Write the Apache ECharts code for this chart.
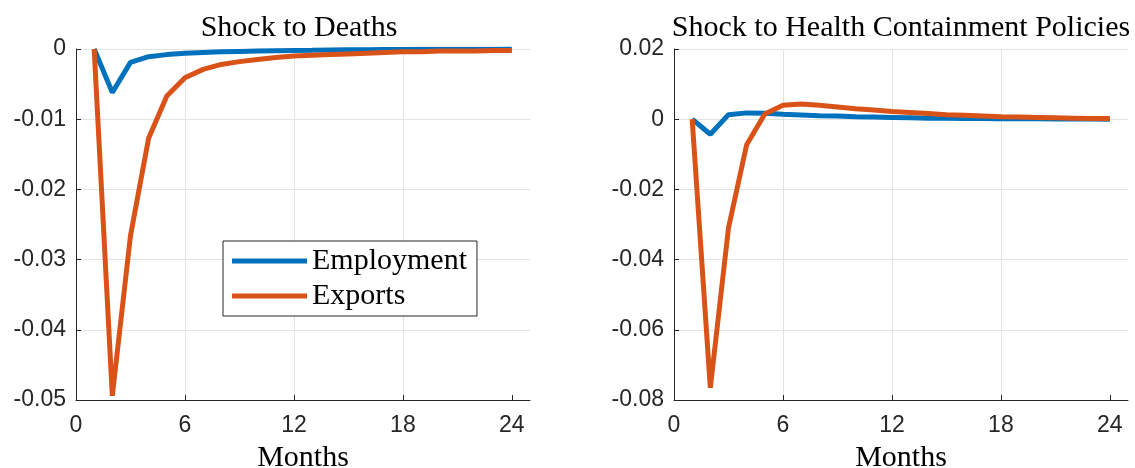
<!DOCTYPE html>
<html>
<head>
<meta charset="utf-8">
<script src="https://cdn.jsdelivr.net/npm/echarts@6/dist/echarts.min.js"></script>
<style>
  html, body { margin: 0; padding: 0; background: #fff; }
  #main { width: 1135px; height: 468px; }
</style>
</head>
<body>
<div id="main"></div>
<script>
// months after the shock
var months = [1, 2, 3, 4, 5, 6, 7, 8, 9, 10, 11, 12, 13, 14, 15, 16, 17, 18, 19, 20, 21, 22, 23, 24];
var xTicks = [0, 6, 12, 18, 24];

// shock to deaths
var deathsEmployment = [0, -0.0062, -0.0019, -0.0011, -0.0008, -0.0006, -0.0005, -0.0004, -0.00035, -0.0003,
  -0.00025, -0.0002, -0.00018, -0.00015, -0.00012, -0.0001, -0.00008, -0.00006, -0.00005, -0.00004,
  -0.00003, -0.00002, -0.00002, -0.00001];
var deathsExports = [0, -0.0494, -0.0266, -0.0127, -0.0067, -0.0041, -0.0029, -0.0022, -0.0018, -0.0015,
  -0.0012, -0.0010, -0.0009, -0.0008, -0.0007, -0.0006, -0.0005, -0.0004, -0.0004, -0.0003,
  -0.0003, -0.0003, -0.0002, -0.0002];

// shock to health containment policies
var policyEmployment = [0, -0.0043, 0.0013, 0.0018, 0.0017, 0.0014, 0.0012, 0.0010, 0.0009, 0.0007,
  0.0006, 0.0005, 0.0004, 0.0003, 0.0003, 0.0002, 0.0002, 0.0001, 0.0001, 0.0001,
  0.00005, 0.00005, 0.00003, 0.00002];
var policyExports = [0, -0.0765, -0.0310, -0.0073, 0.0015, 0.0040, 0.0043, 0.0040, 0.0035, 0.0030,
  0.0026, 0.0022, 0.0019, 0.0016, 0.0013, 0.0011, 0.0009, 0.0007, 0.0006, 0.0005,
  0.0004, 0.0003, 0.0002, 0.0002];

var blue = '#0072BD';
var orange = '#D95319';
var axisColor = '#262626';
var serif = '"Liberation Serif", "DejaVu Serif", serif';
var sans = '"Liberation Sans", Arial, sans-serif';

function pairs(vals) {
  return months.map(function (m, i) { return [m, vals[i]]; });
}

function xAxisCfg(idx) {
  return {
    gridIndex: idx, type: 'value', min: 0, max: 25, interval: 6,
    name: 'Months', nameLocation: 'middle', nameGap: 43,
    nameTextStyle: { fontFamily: serif, fontSize: 30, color: '#000' },
    axisLine: { show: true, onZero: false, lineStyle: { color: axisColor, width: 1 } },
    axisTick: { show: true, inside: true, length: 5, customValues: xTicks, lineStyle: { color: axisColor } },
    axisLabel: { customValues: xTicks, margin: 14, fontFamily: sans, fontSize: 23, color: axisColor },
    splitLine: { show: true, showMinLine: false, showMaxLine: false, lineStyle: { color: '#e3e3e3', width: 1 } }
  };
}

function yAxisCfg(idx, min, max, step) {
  return {
    gridIndex: idx, type: 'value', min: min, max: max, interval: step,
    axisLine: { show: true, lineStyle: { color: axisColor, width: 1 } },
    axisTick: { show: true, inside: true, length: 5, lineStyle: { color: axisColor } },
    axisLabel: { margin: 10, padding: [4, 0, 0, 0], fontFamily: sans, fontSize: 23, color: axisColor },
    splitLine: { show: true, showMinLine: false, lineStyle: { color: '#e3e3e3', width: 1 } }
  };
}

function lineSeries(name, idx, vals, color) {
  return {
    name: name, type: 'line', xAxisIndex: idx, yAxisIndex: idx,
    data: pairs(vals), showSymbol: false, symbol: 'none', animation: false,
    lineStyle: { color: color, width: 5 }, itemStyle: { color: color }
  };
}

var chart = echarts.init(document.getElementById('main'));
chart.setOption({
  animation: false,
  title: [
    { text: 'Shock to Deaths', left: 294, top: 8, textAlign: 'center',
      textStyle: { fontFamily: serif, fontSize: 30, fontWeight: 'normal', color: '#000' } },
    { text: 'Shock to Health Containment Policies', left: 896, top: 8, textAlign: 'center',
      textStyle: { fontFamily: serif, fontSize: 30, fontWeight: 'normal', color: '#000' } }
  ],
  grid: [
    { left: 76, top: 49, width: 454, height: 351, outerBoundsMode: 'none', containLabel: false },
    { left: 674, top: 49, width: 454, height: 351, outerBoundsMode: 'none', containLabel: false }
  ],
  legend: {
    data: ['Employment', 'Exports'],
    orient: 'vertical', left: 223, top: 241,
    padding: [5, 10, 5, 9], itemGap: 5,
    itemWidth: 75, itemHeight: 5, icon: 'rect',
    backgroundColor: '#fff', borderColor: axisColor, borderWidth: 1,
    textStyle: { fontFamily: serif, fontSize: 30, color: '#000', lineHeight: 30 }
  },
  xAxis: [xAxisCfg(0), xAxisCfg(1)],
  yAxis: [yAxisCfg(0, -0.05, 0, 0.01), yAxisCfg(1, -0.08, 0.02, 0.02)],
  series: [
    lineSeries('Employment', 0, deathsEmployment, blue),
    lineSeries('Exports', 0, deathsExports, orange),
    lineSeries('Employment', 1, policyEmployment, blue),
    lineSeries('Exports', 1, policyExports, orange)
  ]
});
</script>
</body>
</html>
